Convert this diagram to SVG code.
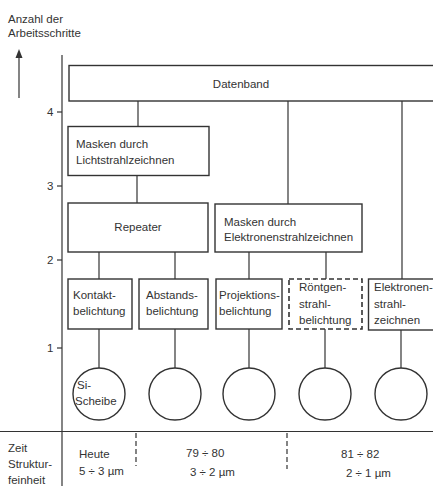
<svg xmlns="http://www.w3.org/2000/svg" width="433" height="486" viewBox="0 0 433 486">
<defs>
<style>
.b{fill:none;stroke:#333;stroke-width:1.4}
.d{fill:none;stroke:#333;stroke-width:1.6;stroke-dasharray:5,3}
.l{fill:none;stroke:#333;stroke-width:1.2}
.ld{fill:none;stroke:#333;stroke-width:1.2;stroke-dasharray:5,3}
text{font-family:"Liberation Sans",Arial,sans-serif;font-size:11.5px;fill:#333}
</style>
</defs>
<rect width="433" height="486" fill="#fff"/>
<g id="axis">
<text x="8" y="23">Anzahl der</text>
<text x="8" y="37">Arbeitsschritte</text>
<line class="l" x1="19" y1="98" x2="19" y2="57"/>
<path d="M15.5,58 L19,49 L22.5,58 Z" fill="#333"/>
<line class="l" x1="62" y1="55" x2="62" y2="486"/>
<line class="l" x1="57" y1="112" x2="62" y2="112"/>
<line class="l" x1="57" y1="186" x2="62" y2="186"/>
<line class="l" x1="57" y1="260" x2="62" y2="260"/>
<line class="l" x1="57" y1="348" x2="62" y2="348"/>
<text x="47" y="116">4</text>
<text x="47" y="190">3</text>
<text x="47" y="264">2</text>
<text x="47" y="352">1</text>
</g>
<g id="connectors">
<line class="l" x1="138" y1="101" x2="138" y2="126"/>
<line class="l" x1="137" y1="175" x2="137" y2="203"/>
<line class="l" x1="288" y1="101" x2="288" y2="204"/>
<line class="l" x1="402" y1="101" x2="402" y2="279"/>
<line class="l" x1="99" y1="252" x2="99" y2="279"/>
<line class="l" x1="175" y1="252" x2="175" y2="279"/>
<line class="l" x1="249" y1="252" x2="249" y2="279"/>
<line class="l" x1="326" y1="252" x2="326" y2="279"/>
<line class="l" x1="99" y1="329" x2="99" y2="368"/>
<line class="l" x1="175" y1="329" x2="175" y2="368"/>
<line class="l" x1="249" y1="329" x2="249" y2="368"/>
<line class="l" x1="325" y1="329" x2="325" y2="368"/>
<line class="l" x1="401" y1="330" x2="401" y2="368"/>
</g>
<g id="datenband">
<rect class="b" x="69" y="65.5" width="380" height="35.5"/>
<text x="241" y="88" text-anchor="middle">Datenband</text>
</g>
<g id="masken-licht">
<rect class="b" x="68" y="126.5" width="141" height="49"/>
<text x="76" y="148">Masken durch</text>
<text x="76" y="164">Lichtstrahlzeichnen</text>
</g>
<g id="repeater">
<rect class="b" x="68" y="203" width="140" height="49"/>
<text x="138" y="231" text-anchor="middle">Repeater</text>
</g>
<g id="masken-elektronen">
<rect class="b" x="215" y="204" width="147" height="48"/>
<text x="224" y="226">Masken durch</text>
<text x="224" y="241">Elektronenstrahlzeichnen</text>
</g>
<g id="kontakt">
<rect class="b" x="68" y="279" width="64" height="50"/>
<text x="73" y="299">Kontakt-</text>
<text x="73" y="315">belichtung</text>
</g>
<g id="abstands">
<rect class="b" x="139" y="279" width="69" height="50"/>
<text x="146" y="299">Abstands-</text>
<text x="146" y="315">belichtung</text>
</g>
<g id="projektions">
<rect class="b" x="216" y="279" width="66" height="50"/>
<text x="219" y="299">Projektions-</text>
<text x="219" y="315">belichtung</text>
</g>
<g id="roentgen">
<rect class="d" x="289" y="279" width="73" height="50"/>
<text x="299" y="291">Röntgen-</text>
<text x="299" y="308">strahl-</text>
<text x="299" y="324">belichtung</text>
</g>
<g id="elektronen">
<rect class="b" x="368.5" y="279" width="80" height="51"/>
<text x="374" y="291">Elektronen-</text>
<text x="374" y="308">strahl-</text>
<text x="374" y="324">zeichnen</text>
</g>
<g id="wafer1">
<circle class="b" cx="99" cy="394" r="26"/>
<text x="77" y="389">Si-</text>
<text x="75" y="405">Scheibe</text>
</g>
<g id="wafer2"><circle class="b" cx="175" cy="394" r="26"/></g>
<g id="wafer3"><circle class="b" cx="249" cy="394" r="26"/></g>
<g id="wafer4"><circle class="b" cx="325" cy="394" r="26"/></g>
<g id="wafer5"><circle class="b" cx="401" cy="394" r="26"/></g>
<g id="timeline">
<line class="l" x1="0" y1="431.5" x2="433" y2="431.5"/>
<line class="ld" x1="136" y1="433" x2="136" y2="466"/>
<line class="ld" x1="287" y1="433" x2="287" y2="469"/>
<text x="8" y="452">Zeit</text>
<text x="8" y="468">Struktur-</text>
<text x="8" y="484">feinheit</text>
<text x="79" y="458">Heute</text>
<text x="79" y="475">5 ÷ 3 µm</text>
<text x="186" y="457">79 ÷ 80</text>
<text x="190" y="476">3 ÷ 2 µm</text>
<text x="341" y="458">81 ÷ 82</text>
<text x="346" y="477">2 ÷ 1 µm</text>
</g>
</svg>
